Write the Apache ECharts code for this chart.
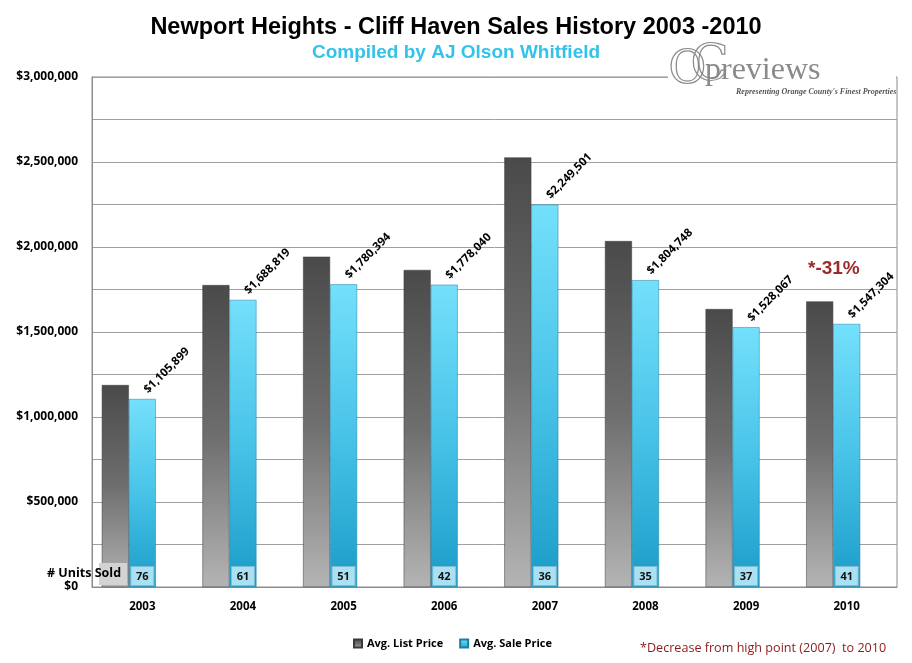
<!DOCTYPE html>
<html><head><meta charset="utf-8">
<script src="https://cdn.jsdelivr.net/npm/echarts@6/dist/echarts.min.js"></script>
<style>html,body{margin:0;padding:0;background:#fff}#c{width:912px;height:663px}</style>
</head><body><div id="c"></div>
<script>
var years = ['2003','2004','2005','2006','2007','2008','2009','2010'];
var listPrice = [1188000, 1776000, 1943000, 1865000, 2527000, 2035000, 1635000, 1680000];
var salePrice = [1105899, 1688819, 1780394, 1778040, 2249501, 1804748, 1528067, 1547304];
var unitsSold = [76, 61, 51, 42, 36, 35, 37, 41];
var yTicks = [0, 500000, 1000000, 1500000, 2000000, 2500000, 3000000];

var money = function(v){ return '$' + Math.round(v).toLocaleString('en-US'); };
var chart = echarts.init(document.getElementById('c'));
var lab = 'Open Sans';
chart.setOption({
  backgroundColor: '#fff',
  animation: false,
  title: [
    {text: 'Newport Heights - Cliff Haven Sales History 2003 -2010', left: 'center', top: 11,
     textStyle: {fontFamily: 'Liberation Sans', fontWeight: 'bold', fontSize: 23.5, color: '#000'}},
    {text: 'Compiled by AJ Olson Whitfield', left: 'center', top: 38,
     textStyle: {fontFamily: 'Liberation Sans', fontWeight: 'bold', fontSize: 19, color: '#33c3ea'}}
  ],
  legend: {
    data: ['Avg. List Price', 'Avg. Sale Price'], left: 348, top: 633,
    icon: 'rect', itemWidth: 8, itemHeight: 8, itemGap: 16,
    textStyle: {fontFamily: lab, fontWeight: 'bold', fontSize: 11, color: '#000'}
  },
  grid: {left: 92, right: 15, top: 77, bottom: 76, show: true, borderColor: '#8c8c8c', borderWidth: 1},
  xAxis: {
    type: 'category', data: years,
    axisLine: {lineStyle: {color: '#8c8c8c'}}, axisTick: {show: false},
    axisLabel: {fontFamily: lab, fontWeight: 'bold', fontSize: 11.5, color: '#000', margin: 14}
  },
  yAxis: {
    type: 'value', min: 0, max: 3000000, interval: 250000,
    axisLine: {show: true, lineStyle: {color: '#8c8c8c'}}, axisTick: {show: false},
    splitLine: {lineStyle: {color: '#a0a0a0', width: 1}},
    axisLabel: {fontFamily: lab, fontWeight: 'bold', fontSize: 12, color: '#000', margin: 14,
      formatter: function(v){ return yTicks.indexOf(v) >= 0 ? money(v) : ''; }}
  },
  series: [
    {name: 'Avg. List Price', type: 'bar', data: listPrice, barWidth: 27, barGap: '0%',
     itemStyle: {color: new echarts.graphic.LinearGradient(0,0,0,1,[
       {offset:0,color:'#4a4a4a'},{offset:0.5,color:'#6e6e6e'},{offset:1,color:'#b4b4b4'}]),
       borderColor: '#3a3a3a', borderWidth: 0.5}},
    {name: 'units', type: 'bar', stack: 's', data: unitsSold.map(function(){return 0;}), barWidth: 27, z: 5,
     silent: true, itemStyle: {color: 'transparent'},
     label: {show: true, position: 'top', distance: 2, formatter: function(p){ return unitsSold[p.dataIndex]; },
       fontFamily: lab, fontWeight: 'bold', fontSize: 11, color: '#111',
       backgroundColor: '#a9e0f2', borderColor: '#7fbcd3', borderWidth: 1, width: 14, align: 'center', padding: [4,4,3,4]}},
    {name: 'Avg. Sale Price', type: 'bar', stack: 's', data: salePrice, barWidth: 27,
     itemStyle: {color: new echarts.graphic.LinearGradient(0,0,0,1,[
       {offset:0,color:'#74e0fb'},{offset:0.5,color:'#48c3e8'},{offset:1,color:'#1a9cc8'}]),
       borderColor: '#1b7fa3', borderWidth: 0.5},
     label: {show: true, position: 'top', rotate: 45, align: 'left', verticalAlign: 'middle', distance: 4, offset: [5, 0],
       formatter: function(p){ return money(p.value); },
       fontFamily: lab, fontWeight: 'bold', fontSize: 11.5, color: '#000'}},
    {name: 'spacer', type: 'bar', data: years.map(function(){return 0;}), barWidth: 27, silent: true,
     itemStyle: {color: 'transparent'}}
  ],
  graphic: [
    {type: 'rect', left: 99, top: 563, shape: {width: 28, height: 22}, style: {fill: '#d3d3d3'}, z: 10},
    {type: 'text', left: 47, top: 567, style: {text: '# Units Sold', font: 'bold 12.5px "Open Sans"', fill: '#000'}, z: 11},
    {type: 'rect', left: 668, top: 55, shape: {width: 228, height: 44}, style: {fill: '#fff'}, z: 10},
    {type: 'text', left: 668, top: 47, style: {text: 'O', font: '46px "DejaVu Serif"', fill: 'transparent', stroke: '#8a8a8a', lineWidth: 1.2}, z: 11},
    {type: 'text', left: 690, top: 41, style: {text: 'C', font: '50px "DejaVu Serif"', fill: 'transparent', stroke: '#8a8a8a', lineWidth: 1.2}, z: 11},
    {type: 'text', left: 705, top: 55, style: {text: 'previews', font: '32px "Liberation Serif"', fill: '#8a8a8a'}, z: 11},
    {type: 'text', left: 736, top: 88, style: {text: "Representing Orange County's Finest Properties", font: 'italic bold 8px "Liberation Serif"', fill: '#555'}, z: 11},
    {type: 'text', left: 808, top: 259, style: {text: '*-31%', font: 'bold 19px "Liberation Sans"', fill: '#9b2a2a'}, z: 11},
    {type: 'text', left: 640, top: 642, style: {text: '*Decrease from high point (2007)  to 2010', font: '12.6px "Open Sans"', fill: '#8b1a1a'}, z: 11}
  ]
});
</script></body></html>
